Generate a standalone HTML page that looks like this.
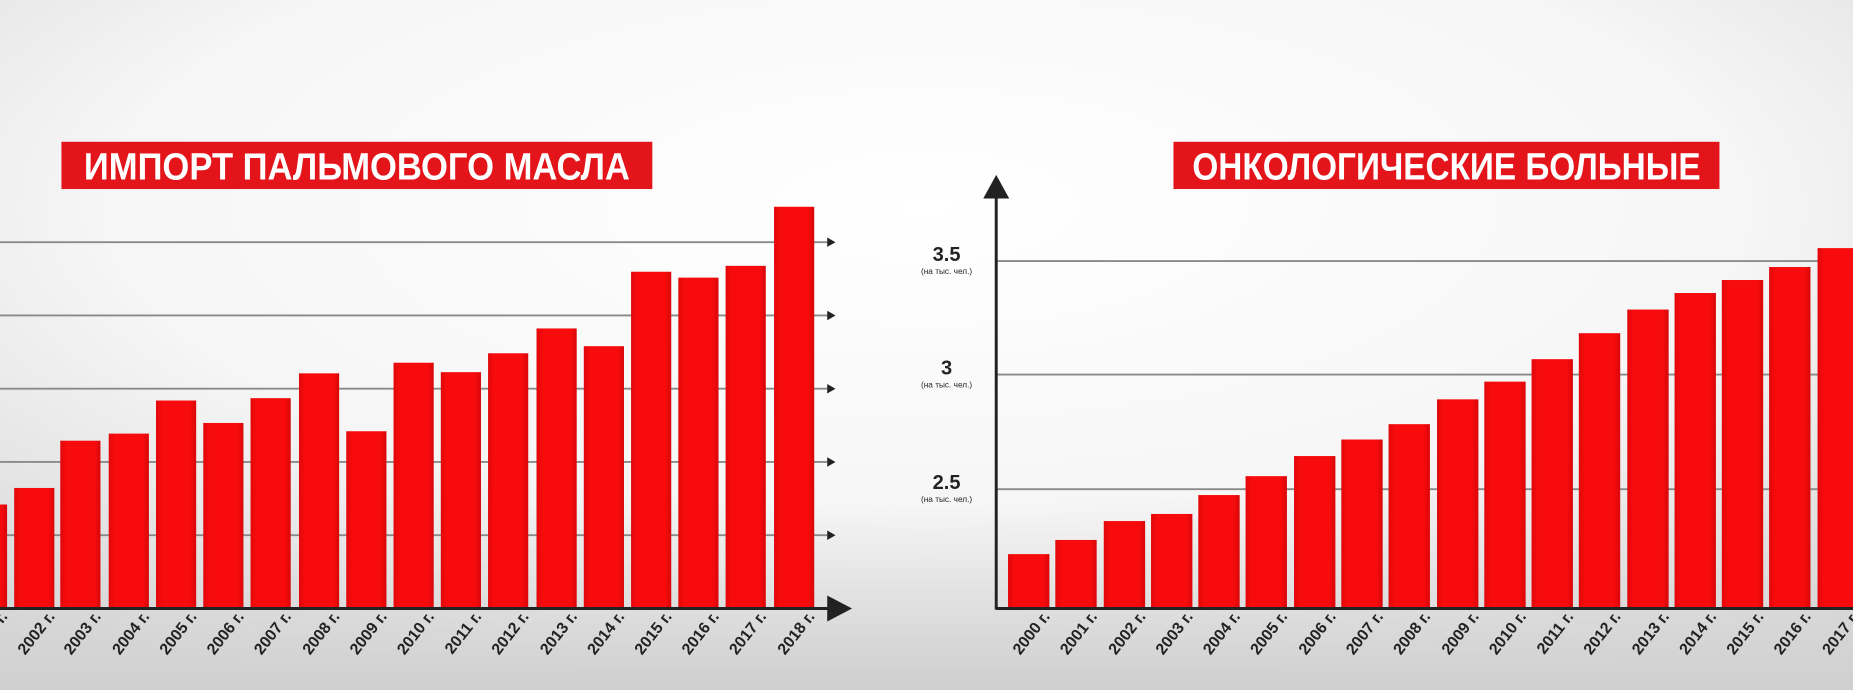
<!DOCTYPE html>
<html><head><meta charset="utf-8"><style>
html,body{margin:0;padding:0;width:1853px;height:690px;overflow:hidden;background:#e6e6e6}
svg{display:block}
</style></head><body>
<svg width="1853" height="690" viewBox="0 0 1568 584" preserveAspectRatio="none" xmlns="http://www.w3.org/2000/svg">
<defs>
<radialGradient id="bg" cx="0.5" cy="0.3" r="0.8">
<stop offset="0" stop-color="#ffffff"/><stop offset="0.55" stop-color="#f6f6f6"/><stop offset="1" stop-color="#d4d4d4"/>
</radialGradient>
<linearGradient id="bot" x1="0" y1="0" x2="0" y2="1">
<stop offset="0" stop-color="#e4e4e4" stop-opacity="0"/><stop offset="1" stop-color="#cfcfcf" stop-opacity="1"/>
</linearGradient>
<linearGradient id="bar" x1="0" y1="0" x2="1" y2="0">
<stop offset="0" stop-color="#e0080b"/><stop offset="0.15" stop-color="#f70b0c"/><stop offset="0.85" stop-color="#f70b0c"/><stop offset="1" stop-color="#d8070a"/>
</linearGradient>
</defs>
<rect width="1568" height="584" fill="url(#bg)"/>
<rect y="420" width="1568" height="164" fill="url(#bot)"/>

<!-- LEFT CHART -->
<g stroke="#8a8a8a" stroke-width="1.6">
<line x1="0" y1="205" x2="700" y2="205"/><line x1="0" y1="267" x2="700" y2="267"/>
<line x1="0" y1="329" x2="700" y2="329"/><line x1="0" y1="391" x2="700" y2="391"/>
<line x1="0" y1="453" x2="700" y2="453"/>
</g>
<g fill="#222">
<polygon points="700,201 707,205 700,209"/><polygon points="700,263 707,267 700,271"/>
<polygon points="700,325 707,329 700,333"/><polygon points="700,387 707,391 700,395"/>
<polygon points="700,449 707,453 700,457"/>
</g>
<g fill="url(#bar)">
<rect x="-28" y="427" width="34" height="88"/>
<rect x="12" y="413" width="34" height="102"/>
<rect x="51" y="373" width="34" height="142"/>
<rect x="92" y="367" width="34" height="148"/>
<rect x="132" y="339" width="34" height="176"/>
<rect x="172" y="358" width="34" height="157"/>
<rect x="212" y="337" width="34" height="178"/>
<rect x="253" y="316" width="34" height="199"/>
<rect x="293" y="365" width="34" height="150"/>
<rect x="333" y="307" width="34" height="208"/>
<rect x="373" y="315" width="34" height="200"/>
<rect x="413" y="299" width="34" height="216"/>
<rect x="454" y="278" width="34" height="237"/>
<rect x="494" y="293" width="34" height="222"/>
<rect x="534" y="230" width="34" height="285"/>
<rect x="574" y="235" width="34" height="280"/>
<rect x="614" y="225" width="34" height="290"/>
<rect x="655" y="175" width="34" height="340"/>
</g>
<line x1="0" y1="515" x2="702" y2="515" stroke="#222" stroke-width="2.5"/>
<polygon points="700,504 721,515 700,526" fill="#222"/>
<g font-family="'Liberation Sans','DejaVu Sans',sans-serif" font-weight="bold" font-size="13.5" fill="#222" text-anchor="end">
<text transform="translate(7,522) rotate(-52)">2001 г.</text>
<text transform="translate(47,522) rotate(-52)">2002 г.</text>
<text transform="translate(86,522) rotate(-52)">2003 г.</text>
<text transform="translate(127,522) rotate(-52)">2004 г.</text>
<text transform="translate(167,522) rotate(-52)">2005 г.</text>
<text transform="translate(207,522) rotate(-52)">2006 г.</text>
<text transform="translate(247,522) rotate(-52)">2007 г.</text>
<text transform="translate(288,522) rotate(-52)">2008 г.</text>
<text transform="translate(328,522) rotate(-52)">2009 г.</text>
<text transform="translate(368,522) rotate(-52)">2010 г.</text>
<text transform="translate(408,522) rotate(-52)">2011 г.</text>
<text transform="translate(448,522) rotate(-52)">2012 г.</text>
<text transform="translate(489,522) rotate(-52)">2013 г.</text>
<text transform="translate(529,522) rotate(-52)">2014 г.</text>
<text transform="translate(569,522) rotate(-52)">2015 г.</text>
<text transform="translate(609,522) rotate(-52)">2016 г.</text>
<text transform="translate(649,522) rotate(-52)">2017 г.</text>
<text transform="translate(690,522) rotate(-52)">2018 г.</text>
</g>
<rect x="52" y="120" width="500" height="40" fill="#e3141a"/>
<text x="302" y="152" text-anchor="middle" font-family="'Liberation Sans Narrow','Liberation Sans',sans-serif" font-weight="bold" font-size="32" fill="#fff" textLength="462" lengthAdjust="spacingAndGlyphs">ИМПОРТ ПАЛЬМОВОГО МАСЛА</text>

<!-- RIGHT CHART -->
<g stroke="#8a8a8a" stroke-width="1.6">
<line x1="843" y1="221" x2="1568" y2="221"/>
<line x1="843" y1="317" x2="1568" y2="317"/>
<line x1="843" y1="414" x2="1568" y2="414"/>
</g>
<g fill="url(#bar)">
<rect x="853" y="469" width="35" height="46"/>
<rect x="893" y="457" width="35" height="58"/>
<rect x="934" y="441" width="35" height="74"/>
<rect x="974" y="435" width="35" height="80"/>
<rect x="1014" y="419" width="35" height="96"/>
<rect x="1054" y="403" width="35" height="112"/>
<rect x="1095" y="386" width="35" height="129"/>
<rect x="1135" y="372" width="35" height="143"/>
<rect x="1175" y="359" width="35" height="156"/>
<rect x="1216" y="338" width="35" height="177"/>
<rect x="1256" y="323" width="35" height="192"/>
<rect x="1296" y="304" width="35" height="211"/>
<rect x="1336" y="282" width="35" height="233"/>
<rect x="1377" y="262" width="35" height="253"/>
<rect x="1417" y="248" width="35" height="267"/>
<rect x="1457" y="237" width="35" height="278"/>
<rect x="1497" y="226" width="35" height="289"/>
<rect x="1538" y="210" width="35" height="305"/>
</g>
<line x1="843" y1="515" x2="1568" y2="515" stroke="#222" stroke-width="2.5"/>
<line x1="843" y1="162" x2="843" y2="516" stroke="#222" stroke-width="2.5"/>
<polygon points="832,168 843,148 854,168" fill="#222"/>
<g font-family="'Liberation Sans','DejaVu Sans',sans-serif" fill="#222" text-anchor="middle">
<text x="801" y="221" font-size="17" font-weight="bold">3.5</text>
<text x="801" y="232" font-size="7">(на тыс. чел.)</text>
<text x="801" y="317" font-size="17" font-weight="bold">3</text>
<text x="801" y="328" font-size="7">(на тыс. чел.)</text>
<text x="801" y="414" font-size="17" font-weight="bold">2.5</text>
<text x="801" y="425" font-size="7">(на тыс. чел.)</text>
</g>
<g font-family="'Liberation Sans','DejaVu Sans',sans-serif" font-weight="bold" font-size="13.5" fill="#222" text-anchor="end">
<text transform="translate(889,522) rotate(-52)">2000 г.</text>
<text transform="translate(929,522) rotate(-52)">2001 г.</text>
<text transform="translate(970,522) rotate(-52)">2002 г.</text>
<text transform="translate(1010,522) rotate(-52)">2003 г.</text>
<text transform="translate(1050,522) rotate(-52)">2004 г.</text>
<text transform="translate(1090,522) rotate(-52)">2005 г.</text>
<text transform="translate(1131,522) rotate(-52)">2006 г.</text>
<text transform="translate(1171,522) rotate(-52)">2007 г.</text>
<text transform="translate(1211,522) rotate(-52)">2008 г.</text>
<text transform="translate(1252,522) rotate(-52)">2009 г.</text>
<text transform="translate(1292,522) rotate(-52)">2010 г.</text>
<text transform="translate(1332,522) rotate(-52)">2011 г.</text>
<text transform="translate(1372,522) rotate(-52)">2012 г.</text>
<text transform="translate(1413,522) rotate(-52)">2013 г.</text>
<text transform="translate(1453,522) rotate(-52)">2014 г.</text>
<text transform="translate(1493,522) rotate(-52)">2015 г.</text>
<text transform="translate(1533,522) rotate(-52)">2016 г.</text>
<text transform="translate(1574,522) rotate(-52)">2017 г.</text>
</g>
<rect x="993" y="120" width="462" height="40" fill="#e3141a"/>
<text x="1224" y="152" text-anchor="middle" font-family="'Liberation Sans Narrow','Liberation Sans',sans-serif" font-weight="bold" font-size="32" fill="#fff" textLength="430" lengthAdjust="spacingAndGlyphs">ОНКОЛОГИЧЕСКИЕ БОЛЬНЫЕ</text>
</svg>
</body></html>
